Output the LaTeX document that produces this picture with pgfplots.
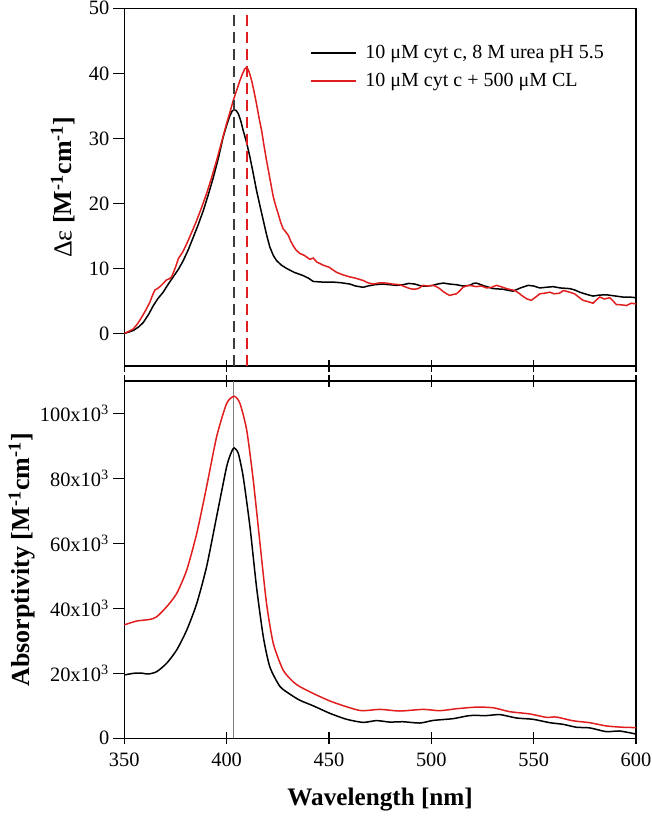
\documentclass[border=0pt]{standalone}
\usepackage{fontspec}
\setmainfont{Liberation Serif}
\usepackage{pgfplots}
\pgfplotsset{compat=1.18}
\definecolor{myred}{RGB}{225,30,30}
\definecolor{dgray}{RGB}{60,60,60}
\begin{document}
\begin{tikzpicture}
\pgfplotsset{
  every axis/.append style={
    scale only axis, width=255.85pt,
    xmin=350, xmax=600,
    xtick={350,400,...,600},
    tick align=center,
    major tick length=6pt,
    ytick style={xshift=-2.4pt},
    tick style={black, line width=0.6pt},
    axis line style={line width=0.6pt},
    /pgf/number format/assume math mode=true,
    tick label style={font=\fontsize{10.2}{12}\selectfont},
    every axis y label/.style={at={(rel axis cs:0,0.5)}, rotate=90, anchor=center},
    every axis x label/.style={at={(rel axis cs:0.5,0)}, anchor=center, yshift=-30.85pt},
    yticklabel style={xshift=-1pt},
  },
}
% top panel
\begin{axis}[
  at={(0,186.15pt)}, anchor=south west,
  height=178.85pt,
  ymin=-5, ymax=50, ytick={0,10,...,50},
  xtick pos=lower, ytick pos=left,
  xticklabels={},
  ylabel={{\mdseries Δε} \textbf{[M\textsuperscript{-1}cm\textsuperscript{-1}]}},
  ylabel style={xshift=0pt, font=\fontsize{13}{15}\selectfont, at={(rel axis cs:0,0.5)}, yshift=30.65pt},
  legend cell align=left,
  legend style={draw=none, fill=none, at={(rel axis cs:0.358,0.915)}, anchor=north west,
    font=\fontsize{10}{12}\selectfont, row sep=1.7pt, inner sep=1pt},
  legend image code/.code={\draw[#1, line width=0.8pt] (0pt,0pt) -- (22.5pt,0pt); \path (25pt,0pt);},
]
\addplot[black, line width=0.75pt] coordinates {
(350,0) (352,0.2) (354.4,0.46) (357,1.0) (359.3,1.7) (362,3.0) (364.2,4.3) (366.5,5.4) (369,6.35) (371.5,7.6) (373.9,8.7) (376.5,9.9) (378.8,11.2) (381.3,12.9) (383.7,14.8) (386.2,16.8) (388.6,18.9) (391,21.3) (393.5,24) (396,27) (398.3,30.2) (400,32) (401.6,33.5) (402.7,34.2) (403.6,34.4) (404.6,34.3) (405.7,33.8) (406.9,32.7) (408.1,31.2) (409.8,29.3) (411.4,27.1) (413,24.6) (414.6,22) (416.3,19.6) (417.9,17.4) (419.5,15.2) (421.1,13.3) (422.8,12.0) (424.4,11.2) (426.8,10.5) (429.3,10) (433,9.4) (437.4,8.9) (440,8.5) (442.3,8.0) (447,7.9) (452.1,7.9) (456,7.8) (460.2,7.6) (463,7.3) (466.7,7.1) (469,7.3) (472.4,7.5) (476,7.6) (479.7,7.5) (483,7.4) (486.2,7.5) (489,7.7) (491.9,7.6) (495.2,7.3) (498,7.3) (500.9,7.4) (503,7.6) (505.8,7.75) (509,7.6) (512.3,7.5) (515.5,7.3) (518.8,7.4) (520.5,7.7) (522,7.75) (526,7.3) (530.2,6.9) (535,6.8) (539.9,6.5) (543.5,7.0) (547.3,7.4) (550,7.3) (553,7.0) (556,7.1) (559.5,7.2) (563,7.0) (567.6,6.9) (570,6.7) (572.5,6.35) (576,6.0) (579,5.75) (582,5.9) (585.5,5.95) (589,5.8) (593.7,5.6) (597,5.6) (600,5.5)
};
\addlegendentry{10 μM cyt c, 8 M urea pH 5.5}
\addplot[myred, line width=0.75pt] coordinates {
(350,0) (352,0.3) (354.4,0.7) (356.5,1.5) (358.5,2.5) (360.5,3.6) (362.5,4.8) (363.8,5.9) (365,6.7) (366.2,6.9) (367.4,7.2) (369,7.7) (370.7,8.25) (372,8.4) (373.1,8.7) (374.8,10.0) (376.4,11.5) (378.5,12.5) (380.5,13.8) (383,15.6) (385.4,17.4) (387.8,19.4) (390.2,21.5) (392.7,24) (395.1,26.6) (397.5,29.4) (400,32.3) (401.6,34) (403.2,35.8) (404.9,37.4) (406.5,38.9) (407.7,39.9) (408.9,40.7) (409.8,40.9) (410.5,40.6) (411.3,39.9) (412.2,38.9) (413.4,37.2) (414.6,35.3) (415.8,33.2) (417.1,31.2) (418.3,28.8) (419.5,26.6) (421.2,23.7) (422.8,21) (424,19.6) (425.2,18.4) (426.4,17.1) (427.6,16.1) (428.9,15.6) (430.1,15.1) (431.3,14.2) (432.5,13.5) (434,12.8) (435.8,12.3) (438,12.0) (440.7,11.4) (442.3,11.6) (444,11.0) (447.2,10.5) (450,10.2) (453.7,9.4) (457,9.0) (460.2,8.7) (463,8.5) (466.7,8.15) (469,7.8) (471.6,7.6) (475,7.8) (478.1,7.75) (481,7.6) (484.6,7.5) (487,7.2) (489.5,6.9) (491.5,6.8) (493.6,6.9) (496,7.4) (498.5,7.3) (500.9,7.4) (502.5,7.2) (504.1,6.9) (506,6.4) (507.5,6.1) (509,5.85) (510.7,6.0) (512.3,6.1) (514,6.6) (515.5,7.1) (517,7.3) (518.8,7.4) (522,7.2) (524.5,7.3) (527,7.0) (529.5,7.1) (531.8,7.4) (534,7.2) (536.7,6.9) (540.8,6.6) (542.8,6.2) (544.8,5.7) (546.8,5.3) (548.9,5.1) (551,5.6) (553,6.1) (555.5,6.2) (557.9,6.35) (560,6.1) (562.7,6.2) (564.5,6.6) (566,6.5) (568,6.3) (570,6.1) (572,5.6) (574.1,5.1) (576.5,4.9) (579,4.65) (580.8,5.2) (582.3,5.6) (584.5,5.3) (587.2,5.5) (588.8,5.0) (590.4,4.45) (593,4.4) (595.3,4.3) (597.7,4.65) (600,4.55)
};
\addlegendentry{10 μM cyt c + 500 μM CL}
\addplot[dgray, line width=0.9pt, dash pattern=on 5.5pt off 3pt, forget plot] coordinates {(403.5,-5) (403.5,48.9)};
\addplot[myred, line width=0.75pt, dash pattern=on 5.5pt off 3pt, forget plot] coordinates {(410,-5) (410,48.9)};
\end{axis}
% bottom panel
\begin{axis}[
  at={(0,0)}, anchor=south west,
  height=178.65pt,
  ymin=0, ymax=110, ytick={0,20,...,100},
  yticklabels={0,20x10\textsuperscript{3},40x10\textsuperscript{3},60x10\textsuperscript{3},80x10\textsuperscript{3},100x10\textsuperscript{3}},
  xtick pos=both, ytick pos=left,
  xticklabel pos=lower,
  xticklabel style={yshift=-1pt},
  xlabel={\textbf{Wavelength [nm]}},
  xlabel style={font=\fontsize{12.6}{15}\selectfont},
  ylabel={\textbf{Absorptivity [M\textsuperscript{-1}cm\textsuperscript{-1}]}},
  ylabel style={font=\fontsize{13}{15}\selectfont, yshift=51.3pt},
]
\addplot[gray, line width=0.6pt, forget plot] coordinates {(403.5,0) (403.5,110)};
\addplot[black, line width=0.75pt, smooth, tension=0.4] coordinates {
(350,19.5) (354.4,20) (358,20.1) (361.7,19.8) (365.8,20.5) (370.7,23.1) (375.6,27.2) (380.5,33.3) (385.4,41.5) (390.2,52.8) (395.1,68.2) (400,83.6) (402.4,88.2) (403.7,89.4) (405.7,87.7) (408.1,80.5) (411.4,65.1) (414.6,46.6) (417.9,31.3) (421.1,22) (426,16.0) (430.9,13.6) (435.8,11.7) (442.3,10) (450.4,7.7) (458.6,5.85) (466.7,4.9) (473.2,5.45) (479.7,5) (486.2,5.1) (494.4,4.7) (500.9,5.5) (510.7,6.05) (518.8,7) (527,7) (533.5,7.3) (541.6,6.25) (549.7,5.85) (557.9,4.8) (564.4,4.3) (570.9,3.4) (577.4,3.2) (585.5,2.05) (592,2.25) (600,1.3)
};
\addplot[myred, line width=0.75pt, smooth, tension=0.4] coordinates {
(350,34.9) (356,36.1) (362.5,36.6) (365.8,37.4) (370.7,40.5) (375.6,44.6) (380.5,51.8) (385.4,63.1) (390.2,77.4) (395.1,92.8) (400,103.1) (403.7,105.3) (406.5,103.1) (409.8,94.9) (413,79.5) (416.3,60) (419.5,41.5) (422.8,29.2) (427.6,21) (432.5,17.4) (435.8,15.9) (442.3,13.8) (450.4,11.5) (458.6,9.7) (465.9,8.5) (474.9,8.9) (484.6,8.4) (496,8.9) (504.1,8.5) (512.3,9.1) (522,9.6) (530.2,9.4) (538.3,8.2) (548.1,7.5) (556.2,6.45) (561.1,6.55) (569.2,5.4) (577.4,4.8) (585.5,3.8) (593.7,3.4) (600,3.3)
};
\end{axis}
\pgfresetboundingbox
\path[use as bounding box] (-62.15pt,-38.85pt) rectangle (263.85pt,369.15pt);
\end{tikzpicture}
\end{document}
